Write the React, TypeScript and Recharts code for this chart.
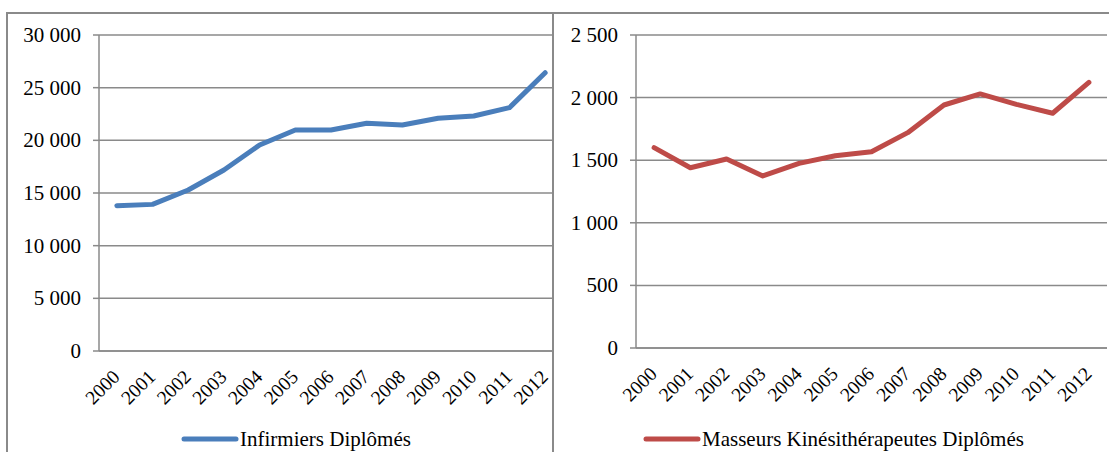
import React from 'react';
import { CartesianGrid, Legend, Line, LineChart, XAxis, YAxis } from 'recharts';

const years = ['2000', '2001', '2002', '2003', '2004', '2005', '2006', '2007', '2008', '2009', '2010', '2011', '2012'];
const infirmiers = [13800, 13920, 15280, 17180, 19560, 20980, 20980, 21620, 21460, 22090, 22310, 23100, 26420];
const masseurs = [1600, 1440, 1510, 1374, 1475, 1536, 1568, 1720, 1941, 2029, 1946, 1875, 2122];
const infirmiersTicks = [0, 5000, 10000, 15000, 20000, 25000, 30000];
const masseursTicks = [0, 500, 1000, 1500, 2000, 2500];
// tick marks sit on the category boundaries, like Excel
const edgeTicks = [...years.map((_, i) => i), years.length];

const FONT = 'Liberation Serif';
const GRID = '#8a8a8a';
const BLUE = '#4a7ebb';
const RED = '#be4b48';

const infData = years.map((year, i) => ({ year, idx: i + 0.5, value: infirmiers[i] }));
const masData = years.map((year, i) => ({ year, idx: i + 0.5, value: masseurs[i] }));

const fmt = (v: number) => String(v).replace(/\B(?=(\d{3})+(?!\d))/g, ' ');

const YearTick = ({ x, y, payload }: any) => (
  <g transform={`translate(${x + 4},${y + 26})`}>
    <text textAnchor="end" transform="rotate(-45)" style={{ fontSize: 19.5, fontFamily: FONT }} fill="#000">
      {payload.value}
    </text>
  </g>
);

const ValueTick = ({ x, y, payload }: any) => (
  <text x={x} y={y} dy={7} textAnchor="end" style={{ fontSize: 21, fontFamily: FONT }} fill="#000">
    {fmt(payload.value)}
  </text>
);

const LegendContent = ({ payload }: any) => (
  <div style={{ display: 'flex', alignItems: 'center', whiteSpace: 'nowrap', height: 24 }}>
    {(payload || []).map((p: any) => (
      <React.Fragment key={p.value}>
        <svg width={58} height={10}>
          <line x1={3} y1={5} x2={55} y2={5} stroke={p.color} strokeWidth={5} strokeLinecap="round" />
        </svg>
        <span style={{ fontSize: 21, fontFamily: FONT, color: '#000', marginLeft: 1 }}>{p.value}</span>
      </React.Fragment>
    ))}
  </div>
);

function Panel({ data, ticks, max, color, name, width, axisWidth, right, bottom, legendLeft }: any) {
  return (
    <LineChart width={width} height={452} data={data} margin={{ top: 35, right, left: 0, bottom }}>
      <CartesianGrid vertical={false} stroke={GRID} strokeWidth={1.5} />
      <XAxis
        xAxisId={0}
        type="number"
        dataKey="idx"
        domain={[0, years.length]}
        allowDataOverflow
        ticks={edgeTicks}
        interval={0}
        tick={false}
        height={1}
        tickSize={6}
        stroke={GRID}
        strokeWidth={1.5}
      />
      <XAxis
        xAxisId="lab"
        dataKey="year"
        scale="band"
        interval={0}
        tickLine={false}
        axisLine={false}
        tickSize={0}
        tickMargin={0}
        height={60}
        tick={<YearTick />}
      />
      <YAxis
        domain={[0, max]}
        ticks={ticks}
        interval={0}
        width={axisWidth}
        tickSize={6}
        tickMargin={12}
        stroke={GRID}
        strokeWidth={1.5}
        tick={<ValueTick />}
      />
      <Line
        xAxisId="lab"
        type="linear"
        dataKey="value"
        name={name}
        stroke={color}
        strokeWidth={5}
        strokeLinecap="round"
        strokeLinejoin="round"
        dot={false}
        isAnimationActive={false}
      />
      <Legend
        layout="vertical"
        verticalAlign="middle"
        align="center"
        wrapperStyle={{ top: 427, left: legendLeft, width: 'auto' }}
        content={<LegendContent />}
      />
    </LineChart>
  );
}

export default function App() {
  return (
    <div style={{ position: 'absolute', left: 0, top: 0, width: 1109, height: 452, overflow: 'hidden', background: '#fff', fontFamily: FONT }}>
      <div style={{ position: 'absolute', left: 6, top: 12, width: 580, height: 480, border: `2px solid ${GRID}` }} />
      <div style={{ position: 'absolute', left: 0, top: 0 }}>
        <Panel data={infData} ticks={infirmiersTicks} max={30000} color={BLUE} name="Infirmiers Diplômés"
          width={570} axisWidth={99} right={7} bottom={40} legendLeft={181} />
      </div>
      <div style={{ position: 'absolute', left: 552, top: 12, width: 600, height: 480, borderLeft: `2px solid ${GRID}`, borderTop: `2px solid ${GRID}`, background: '#fff' }} />
      <div style={{ position: 'absolute', left: 553, top: 0 }}>
        <Panel data={masData} ticks={masseursTicks} max={2500} color={RED} name="Masseurs Kinésithérapeutes Diplômés"
          width={556} axisWidth={83} right={2} bottom={43} legendLeft={90} />
      </div>
    </div>
  );
}
